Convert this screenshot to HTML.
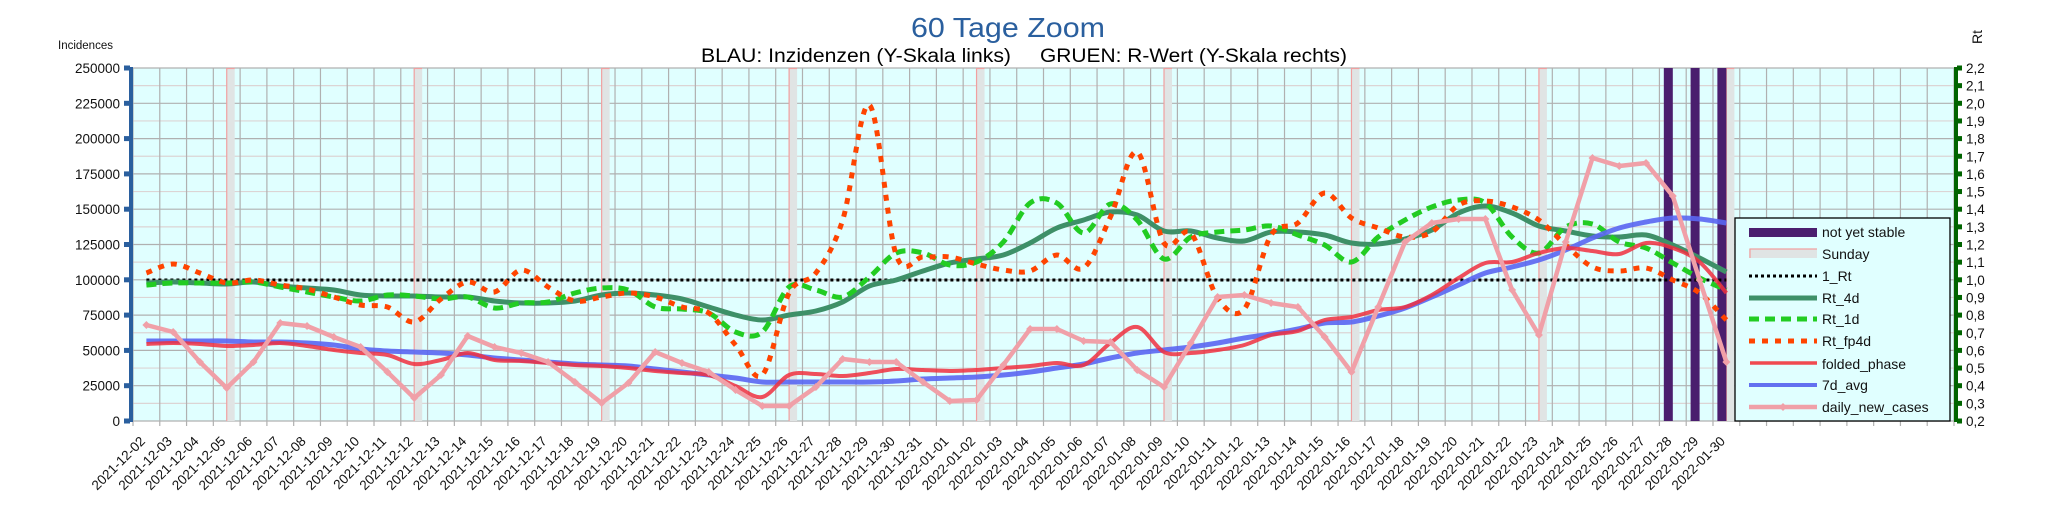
<!DOCTYPE html>
<html><head><meta charset="utf-8">
<style>
html,body{margin:0;padding:0;background:#fff;}
svg{display:block;font-family:"Liberation Sans",sans-serif;}
</style></head>
<body>
<svg id="c" width="2048" height="527" viewBox="0 0 2048 527" xmlns="http://www.w3.org/2000/svg">
<rect width="2048" height="527" fill="#fff"/>
<text x="1008" y="37" text-anchor="middle" font-size="28" fill="#2a5f9e" textLength="194" lengthAdjust="spacingAndGlyphs">60 Tage Zoom</text>
<text x="701" y="62" font-size="19" fill="#000" textLength="310" lengthAdjust="spacingAndGlyphs">BLAU: Inzidenzen (Y-Skala links)</text>
<text x="1040" y="62" font-size="19" fill="#000" textLength="307" lengthAdjust="spacingAndGlyphs">GRUEN: R-Wert (Y-Skala rechts)</text>
<text x="58" y="49" font-size="11.5" fill="#111">Incidences</text>
<text transform="translate(1982,44) rotate(-90)" font-size="14" fill="#111">Rt</text>
<rect x="133" y="68" width="1821" height="353" fill="#e0ffff"/>
<g id="grid"></g>
<g id="bands"></g>
<g id="series"></g>
<g id="axes"></g>
<g id="legend"></g>
</svg>
<script>
var NS="http://www.w3.org/2000/svg";
function el(p,t,a,txt){var e=document.createElementNS(NS,t);for(var k in a)e.setAttribute(k,a[k]);if(txt!==undefined)e.textContent=txt;p.appendChild(e);return e;}
var L=133,R=1954,T=68,B=421,DX=(R-L)/68;
function X(i){return L+DX*(i+0.5);}
var g=document.getElementById('grid');
for(var k=0;k<=20;k++){var y=B-k*353/20;el(g,'line',{x1:L,x2:R,y1:y,y2:y,stroke:(k%2==0)?'#b0b0b0':'#dcd4d4','stroke-width':1.2});}
for(var k=0;k<=68;k++){var x=L+k*DX;el(g,'line',{x1:x,x2:x,y1:T,y2:B+5,stroke:'#b0b0b0','stroke-width':1.2});}
var bd=document.getElementById('bands');
for(var i=3;i<60;i+=7){var x=X(i);el(bd,'rect',{x:x,y:T,width:8,height:B-T,fill:'#e0e4e4'});el(bd,'line',{x1:x,x2:x,y1:T,y2:B,stroke:'#f0a0a0','stroke-width':1.2});el(bd,'line',{x1:x,x2:x+8,y1:T+0.5,y2:T+0.5,stroke:'#f0a0a0','stroke-width':1.2});}
[57,58,59].forEach(function(i){var x=X(i);el(bd,'rect',{x:x-9,y:T,width:9,height:B-T,fill:'#4a1e6e'});});
var pink=[325,332,362,388,362,323,326,337,347,372,398,375,336,347,353,362,382,403,383,352,363,372,390,406,406,387,359,362,362,382,401,400,365,329,329,341,342,370,387,343,297,295,303,307,337,372,307,242,223,219,219,290,335,242,158,166,163,196,280,362];
var blue=[341,341,341,341,342,342,343,345,349,351,352,353,355,358,360,362,364,365,366,369,372,375,378,382,382,382,382,382,381,379,378,377,375,372,368,364,358,353,350,347,343,338,334,329,323,322,316,308,297,285,273,267,260,250,238,228,222,218,219,223];
var red=[344,343,344,346,345,343,346,350,353,355,364,360,353,360,361,363,365,366,368,371,373,375,386,397,375,374,376,373,369,370,371,370,368,366,363,365,343,327,352,353,350,345,335,331,320,317,310,307,295,278,263,262,253,248,251,254,243,248,262,293];
var rt4=[283,282,283,284,282,286,288,290,295,296,296,297,297,301,303,303,301,295,293,295,299,307,315,320,315,311,302,286,280,271,263,259,255,243,228,220,212,215,231,231,238,241,232,232,235,243,244,239,230,213,206,213,226,231,236,237,235,245,258,272];
var rt1=[285,283,283,283,282,287,292,297,301,295,296,299,297,308,303,302,293,288,290,307,309,313,332,332,287,290,297,277,253,253,265,262,242,203,203,233,204,220,259,237,232,230,226,235,245,262,237,220,207,200,203,237,253,227,224,242,248,263,278,290];
var fp=[273,264,273,283,280,285,289,297,305,307,322,299,282,292,270,287,301,297,293,297,307,313,345,375,293,273,220,105,255,257,257,264,270,271,255,268,217,152,243,233,298,309,235,223,193,218,228,237,232,205,201,207,220,245,267,271,268,280,293,320];
function path(ys,smooth){var p=ys.map(function(y,i){return [X(i),y];});var d='M'+p[0][0].toFixed(1)+','+p[0][1];
 for(var i=0;i<p.length-1;i++){ if(!smooth){d+=' L'+p[i+1][0].toFixed(1)+','+p[i+1][1];continue;}
  var p0=p[Math.max(0,i-1)],p1=p[i],p2=p[i+1],p3=p[Math.min(p.length-1,i+2)];
  var c1x=p1[0]+(p2[0]-p0[0])/6,c1y=p1[1]+(p2[1]-p0[1])/6,c2x=p2[0]-(p3[0]-p1[0])/6,c2y=p2[1]-(p3[1]-p1[1])/6;
  d+=' C'+c1x.toFixed(1)+','+c1y.toFixed(1)+' '+c2x.toFixed(1)+','+c2y.toFixed(1)+' '+p2[0].toFixed(1)+','+p2[1];}
 return d;}
var s=document.getElementById('series');
el(s,'line',{x1:X(0),x2:X(59),y1:280,y2:280,stroke:'#000','stroke-width':3,'stroke-dasharray':'3 3'});
el(s,'path',{d:path(rt4,true),fill:'none',stroke:'#3e9068','stroke-width':5,'stroke-linejoin':'round'});
el(s,'path',{d:path(rt1,true),fill:'none',stroke:'#22cc22','stroke-width':5,'stroke-dasharray':'10 6'});
el(s,'path',{d:path(fp,true),fill:'none',stroke:'#ff4400','stroke-width':5,'stroke-dasharray':'6 7'});
el(s,'path',{d:path(blue,true),fill:'none',stroke:'#5a66f2','stroke-width':5,'stroke-opacity':0.9,'stroke-linejoin':'round'});
el(s,'path',{d:path(red,true),fill:'none',stroke:'#f03040','stroke-width':4,'stroke-opacity':0.85,'stroke-linejoin':'round'});
el(s,'path',{d:path(pink,false),fill:'none',stroke:'#f0a0a8','stroke-width':4.5,'stroke-linejoin':'round'});
pink.forEach(function(y,i){var x=X(i);el(s,'path',{d:'M'+(x-4)+','+y+' L'+x+','+(y-4)+' L'+(x+4)+','+y+' L'+x+','+(y+4)+'Z',fill:'#f0a0a8'});});
var a=document.getElementById('axes');
el(a,'rect',{x:129,y:T-1,width:4,height:B-T+2,fill:'#2a5f9e'});
for(var k=0;k<=10;k++){var y=B-k*35.3;el(a,'rect',{x:124,y:y-2.5,width:6,height:5,fill:'#2a5f9e'});
 el(a,'text',{x:120,y:y+5,'text-anchor':'end','font-size':13.5,fill:'#111'},String(k*25000));}
el(a,'rect',{x:1954,y:T-1,width:4,height:B-T+2,fill:'#006400'});
for(var k=0;k<=20;k++){var y=B-k*17.65;el(a,'rect',{x:1957,y:y-2.5,width:5,height:5,fill:'#006400'});
 var v=(0.2+k*0.1).toFixed(1).replace('.',',');el(a,'text',{x:1966,y:y+5,'font-size':13.5,fill:'#111'},v);}
var d0=new Date(Date.UTC(2021,11,2));
for(var i=0;i<60;i++){var dt=new Date(d0.getTime()+i*86400000);var lab=dt.toISOString().slice(0,10);var x=L+i*DX;
 el(a,'text',{transform:'translate('+(x+13)+',442) rotate(-45)','text-anchor':'end','font-size':13.5,fill:'#111'},lab);}
var lg=document.getElementById('legend');
el(lg,'rect',{x:1735,y:218,width:215,height:203,fill:'#e0ffff',stroke:'#000','stroke-width':1.3});
var items=['not yet stable','Sunday','1_Rt','Rt_4d','Rt_1d','Rt_fp4d','folded_phase','7d_avg','daily_new_cases'];
var ys=[232,254,276,298,319,341,364,385,407];
el(lg,'rect',{x:1749,y:228,width:68,height:9,fill:'#4a1e6e'});
el(lg,'rect',{x:1749,y:249,width:68,height:9,fill:'#e0e4e4'});
el(lg,'path',{d:'M1750,258 V249 H1817',fill:'none',stroke:'#f0a0a0','stroke-width':1.2});
el(lg,'line',{x1:1749,x2:1817,y1:276,y2:276,stroke:'#000','stroke-width':3,'stroke-dasharray':'3 3'});
el(lg,'line',{x1:1749,x2:1817,y1:298,y2:298,stroke:'#3e9068','stroke-width':5});
el(lg,'line',{x1:1749,x2:1817,y1:319,y2:319,stroke:'#22cc22','stroke-width':5,'stroke-dasharray':'10 6'});
el(lg,'line',{x1:1749,x2:1817,y1:341,y2:341,stroke:'#ff4400','stroke-width':5,'stroke-dasharray':'6 7'});
el(lg,'line',{x1:1750,x2:1817,y1:363,y2:363,stroke:'#f04a50','stroke-width':3.5});
el(lg,'line',{x1:1749,x2:1817,y1:385,y2:385,stroke:'#6470f0','stroke-width':4});
el(lg,'line',{x1:1749,x2:1817,y1:407,y2:407,stroke:'#f0a0a8','stroke-width':4.5});
el(lg,'path',{d:'M1779,407 L1783,403 L1787,407 L1783,411Z',fill:'#f0a0a8'});
items.forEach(function(t,j){el(lg,'text',{x:1822,y:ys[j]+5,'font-size':14,fill:'#111'},t);});
</script>
</body></html>
